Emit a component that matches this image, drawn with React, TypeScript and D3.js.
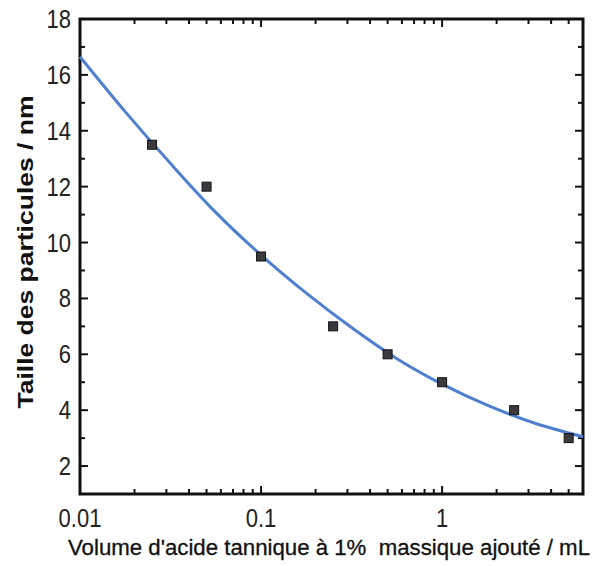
import React, { useEffect, useRef } from 'react'
import * as d3 from 'd3'

// measured points
const volumes = [0.025, 0.05, 0.1, 0.25, 0.5, 1, 2.5, 5]
const sizes = [13.5, 12, 9.5, 7, 6, 5, 4, 3]

// fitted curve
const fitX = [0.01, 0.018, 0.032, 0.056, 0.1, 0.18, 0.32, 0.56, 1, 1.8, 3.2, 6]
const fitY = [16.65, 14.64, 12.79, 11.09, 9.55, 8.16, 6.93, 5.85, 4.93, 4.16, 3.55, 3.05]

const xTicks = [0.01, 0.1, 1]
const yTicks = [2, 4, 6, 8, 10, 12, 14, 16, 18]

export default function App() {
  const ref = useRef<SVGSVGElement>(null)

  useEffect(() => {
    const width = 597
    const height = 566
    const m = { top: 19, right: 14, bottom: 72, left: 80 }

    const svg = d3.select(ref.current)
    svg.selectAll('*').remove()
    svg.attr('width', width).attr('height', height)

    const x = d3.scaleLog().domain([0.01, 6]).range([m.left, width - m.right])
    const y = d3.scaleLinear().domain([1, 18]).range([height - m.bottom, m.top])

    const font = '"Liberation Sans", Arial, sans-serif'
    const x0 = x.range()[0], x1 = x.range()[1]
    const y0 = y.range()[0], y1 = y.range()[1]

    // minor ticks on the log axis
    const minor: number[] = []
    for (const dec of [0.01, 0.1, 1]) {
      for (let k = 2; k <= 9; k++) {
        const v = dec * k
        if (v <= 6) minor.push(v)
      }
    }
    const yMinor = d3.range(3, 18, 2)

    const tk = svg.append('g').attr('stroke', '#111').attr('stroke-width', 2)
    xTicks.forEach(v => {
      tk.append('line').attr('x1', x(v)).attr('x2', x(v)).attr('y1', y0).attr('y2', y0 - 8)
      tk.append('line').attr('x1', x(v)).attr('x2', x(v)).attr('y1', y1).attr('y2', y1 + 8)
    })
    minor.forEach(v => {
      tk.append('line').attr('x1', x(v)).attr('x2', x(v)).attr('y1', y0).attr('y2', y0 - 5)
      tk.append('line').attr('x1', x(v)).attr('x2', x(v)).attr('y1', y1).attr('y2', y1 + 5)
    })
    yTicks.forEach(v => {
      tk.append('line').attr('x1', x0).attr('x2', x0 + 8).attr('y1', y(v)).attr('y2', y(v))
      tk.append('line').attr('x1', x1).attr('x2', x1 - 8).attr('y1', y(v)).attr('y2', y(v))
    })
    yMinor.forEach(v => {
      tk.append('line').attr('x1', x0).attr('x2', x0 + 5).attr('y1', y(v)).attr('y2', y(v))
      tk.append('line').attr('x1', x1).attr('x2', x1 - 5).attr('y1', y(v)).attr('y2', y(v))
    })

    // frame
    svg.append('rect')
      .attr('x', x0).attr('y', y1)
      .attr('width', x1 - x0).attr('height', y0 - y1)
      .attr('fill', 'none').attr('stroke', '#111').attr('stroke-width', 3)

    // tick labels (slightly condensed)
    svg.append('g').selectAll('text').data(xTicks).join('text')
      .attr('x', d => x(d)).attr('y', y0 + 33)
      .attr('text-anchor', 'middle')
      .style('font-family', font).style('font-size', '25px')
      .attr('fill', '#222')
      .attr('transform', d => `translate(${x(d)},0) scale(0.88,1) translate(${-x(d)},0)`)
      .text(d => d3.format('~g')(d))

    const lx = x0 - 9
    svg.append('g').selectAll('text').data(yTicks).join('text')
      .attr('x', lx).attr('y', d => y(d) + 9)
      .attr('text-anchor', 'end')
      .style('font-family', font).style('font-size', '25px')
      .attr('fill', '#222')
      .attr('transform', `translate(${lx},0) scale(0.88,1) translate(${-lx},0)`)
      .text(d => d)

    // fitted curve
    const line = d3.line<number>()
      .x((_, i) => x(fitX[i]))
      .y(d => y(d))
      .curve(d3.curveMonotoneX)
    svg.append('path')
      .datum(fitY)
      .attr('d', line)
      .attr('fill', 'none')
      .attr('stroke', '#4f7fcf')
      .attr('stroke-width', 3)

    // points
    svg.append('g').selectAll('rect').data(sizes).join('rect')
      .attr('x', (_, i) => x(volumes[i]) - 4.5)
      .attr('y', d => y(d) - 4.5)
      .attr('width', 9).attr('height', 9)
      .attr('fill', '#3a3a3f')
      .attr('stroke', '#111').attr('stroke-width', 1)

    // axis titles
    svg.append('text')
      .attr('x', 329).attr('y', 555)
      .attr('text-anchor', 'middle')
      .style('font-family', font).style('font-size', '22px')
      .style('white-space', 'pre')
      .attr('fill', '#111')
      .attr('stroke', '#111').attr('stroke-width', 0.3)
      .attr('textLength', 522).attr('lengthAdjust', 'spacingAndGlyphs')
      .text("Volume d'acide tannique à 1%  massique ajouté / mL")

    svg.append('text')
      .attr('transform', `translate(33,252) rotate(-90)`)
      .attr('text-anchor', 'middle')
      .style('font-family', font).style('font-size', '22px').style('font-weight', 'bold')
      .attr('fill', '#111')
      .attr('textLength', 313).attr('lengthAdjust', 'spacingAndGlyphs')
      .text('Taille des particules / nm')
  }, [])

  return <svg ref={ref} style={{ position: 'absolute', left: 0, top: 0 }} />
}
